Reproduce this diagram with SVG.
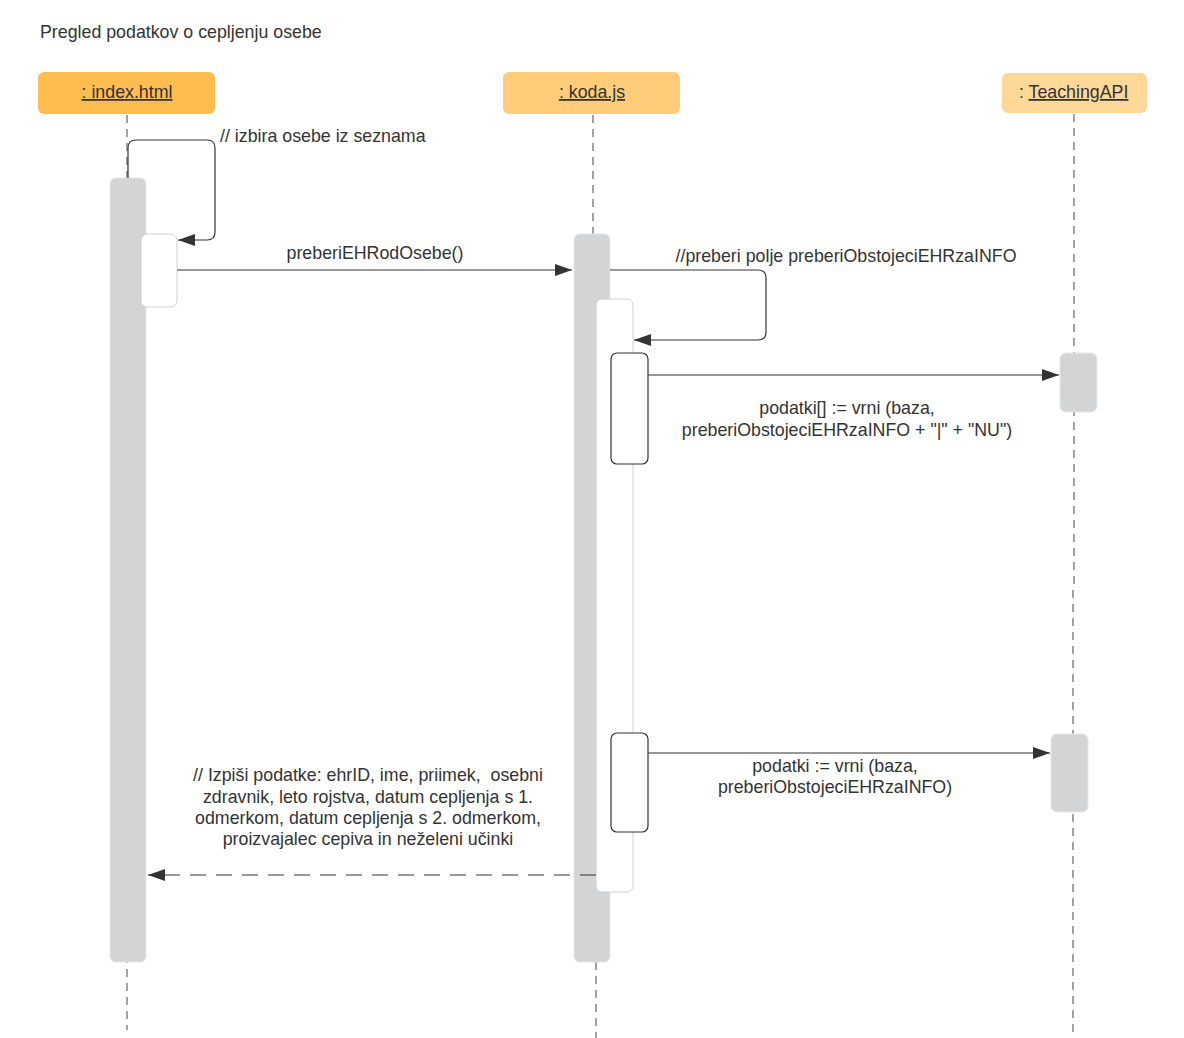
<svg xmlns="http://www.w3.org/2000/svg" width="1184" height="1038" viewBox="0 0 1184 1038">
<defs>
<marker id="arr" markerWidth="18" markerHeight="12" refX="17" refY="6" orient="auto" markerUnits="userSpaceOnUse">
<path d="M0,0 L17,6 L0,12 Z" fill="#333"/>
</marker>
<style>
text{font-family:"Liberation Sans",Arial,sans-serif;font-size:17.8px;fill:#333}
.c{text-anchor:middle}
.life{stroke:#666;stroke-width:1.2;stroke-dasharray:8,6;fill:none}
.act{fill:#D3D4D6;stroke:#E6E6E6;stroke-width:1}
.wact{fill:#fff;stroke:#D0D0D0;stroke-width:1}
.nact{fill:#fff;stroke:#333;stroke-width:1.2}
.msg{stroke:#333;stroke-width:1.2;fill:none;marker-end:url(#arr)}
.ret{stroke:#333;stroke-width:1.2;fill:none;stroke-dasharray:16,10;marker-end:url(#arr)}
</style>
</defs>
<rect width="1184" height="1038" fill="#fff"/>
<text x="40" y="38">Pregled podatkov o cepljenju osebe</text>

<g id="lifelines">
<line class="life" x1="127" y1="115" x2="127" y2="1030"/>
<line class="life" x1="593" y1="115" x2="593" y2="234"/>
<line class="life" x1="596" y1="962" x2="596" y2="1038"/>
<line class="life" x1="1074" y1="114" x2="1074" y2="590"/>
<line class="life" x1="1073" y1="590" x2="1073" y2="1038"/>
</g>

<g id="index-html">
<rect x="38" y="72" width="177" height="42" rx="6" fill="#FFBC4F"/>
<text class="c" x="127" y="98" text-decoration="underline">: index.html</text>
</g>
<g id="koda-js">
<rect x="503" y="72" width="177" height="42" rx="6" fill="#FFCD7A"/>
<text class="c" x="592" y="98" text-decoration="underline">: koda.js</text>
</g>
<g id="teachingapi">
<rect x="1002" y="73" width="145" height="40" rx="6" fill="#FFD898"/>
<text x="1019" y="98">: <tspan text-decoration="underline">TeachingAPI</tspan></text>
</g>

<g id="activations">
<rect class="act" x="110" y="178" width="36" height="784" rx="6"/>
<rect class="wact" x="141" y="234" width="36" height="73" rx="6"/>
<rect class="act" x="574" y="234" width="36" height="728" rx="6"/>
<rect class="wact" x="596" y="299" width="37" height="593" rx="6"/>
<rect class="nact" x="611" y="353" width="37" height="111" rx="6"/>
<rect class="nact" x="611" y="733" width="37" height="99" rx="6"/>
<rect class="act" x="1060" y="353" width="37" height="59" rx="6"/>
<rect class="act" x="1051" y="734" width="37" height="78" rx="6"/>
</g>

<g id="connectors">
<path class="msg" d="M128,178 L128,148 Q128,140 136,140 L207,140 Q215,140 215,148 L215,232 Q215,240 207,240 L178,240"/>
<path class="msg" d="M177,270 L572,270"/>
<path class="msg" d="M610,270 L758,270 Q766,270 766,278 L766,332 Q766,340 758,340 L634,340"/>
<path class="msg" d="M648,375 L1059,375"/>
<path class="msg" d="M648,753 L1050,753"/>
<path class="ret" d="M596,875 L148,875"/>
</g>

<g id="labels">
<text x="220" y="142">// izbira osebe iz seznama</text>
<text class="c" x="375" y="259">preberiEHRodOsebe()</text>
<text class="c" x="846" y="262">//preberi polje preberiObstojeciEHRzaINFO</text>
<text class="c" x="847" y="414">podatki[] := vrni (baza,</text>
<text class="c" x="847" y="436">preberiObstojeciEHRzaINFO + "|" + "NU")</text>
<text class="c" x="835" y="772">podatki := vrni (baza,</text>
<text class="c" x="835" y="793">preberiObstojeciEHRzaINFO)</text>
<text class="c" x="368" y="781" xml:space="preserve">// Izpiši podatke: ehrID, ime, priimek,  osebni</text>
<text class="c" x="368" y="803">zdravnik, leto rojstva, datum cepljenja s 1.</text>
<text class="c" x="368" y="824">odmerkom, datum cepljenja s 2. odmerkom,</text>
<text class="c" x="368" y="845">proizvajalec cepiva in neželeni učinki</text>
</g>
</svg>
